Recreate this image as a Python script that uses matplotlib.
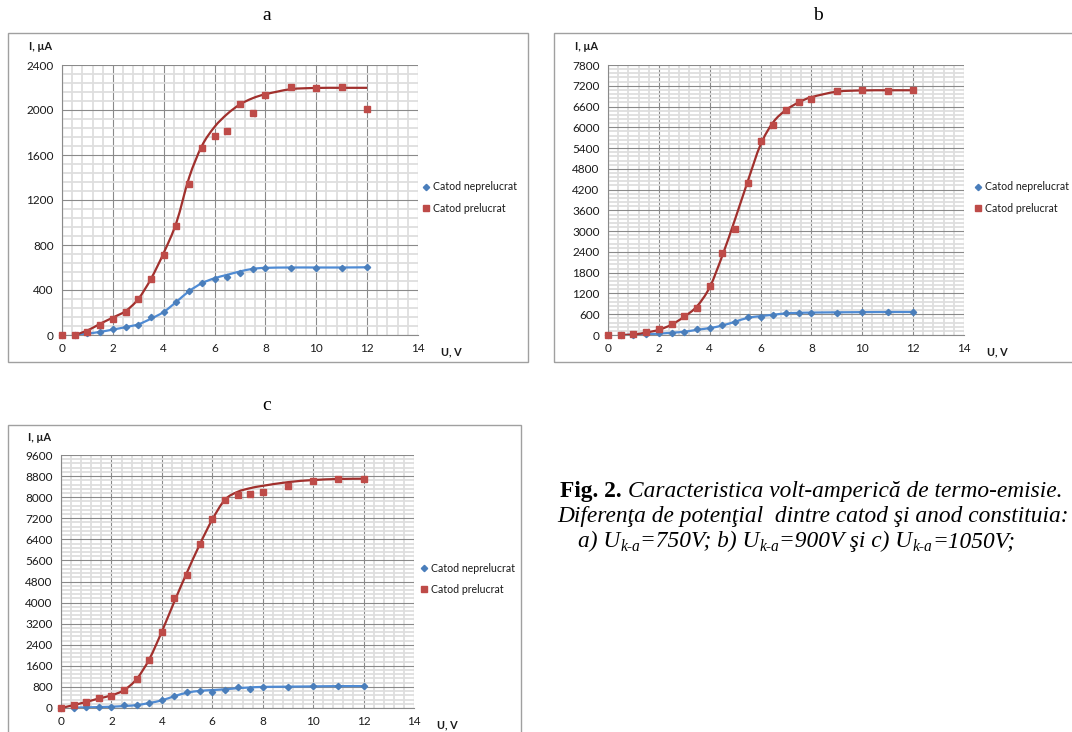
import numpy as np
import matplotlib
matplotlib.use("Agg")
import matplotlib.pyplot as plt
from matplotlib.path import Path
from matplotlib.patches import PathPatch, Rectangle
from matplotlib.lines import Line2D
from matplotlib.ticker import MultipleLocator
from matplotlib.transforms import IdentityTransform

# U, V for the measured points
u_pts = [0, 0.5, 1, 1.5, 2, 2.5, 3, 3.5, 4, 4.5, 5, 5.5, 6, 6.5, 7, 7.5, 8, 9, 10, 11, 12]
# U, V for the smoothed curves
u_fit = [0.5, 1, 1.5, 2, 2.5, 3, 3.5, 4, 4.5, 5, 5.5, 6, 6.5, 7, 7.5, 8, 9, 10, 11, 12]
u_fit_c = [0, 0.5, 1, 1.5, 2, 2.5, 3, 3.5, 4, 4.5, 5, 5.5, 6, 6.5, 7, 7.5, 8, 9, 10, 11, 12]

# a) Uk-a = 750 V
a_neprel = [0, 0, 15, 30, 50, 74, 89, 157, 207, 296, 394, 465, 498, 512, 554, 590, 598, 600, 600, 600, 605]
a_prel = [0, 0, 30, 89, 145, 207, 320, 495, 708, 972, 1342, 1662, 1769, 1813, 2053, 1973, 2136, 2201, 2196, 2201, 2006]
a_neprel_fit = [0, 12, 28, 48, 70, 95, 145, 205, 295, 390, 460, 505, 535, 565, 588, 597, 600, 600, 600, 602]
a_prel_fit = [0, 40, 100, 155, 213, 320, 500, 730, 1000, 1400, 1680, 1850, 1965, 2050, 2105, 2140, 2185, 2196, 2197, 2197]

# b) Uk-a = 900 V
b_neprel = [0, 0, 10, 20, 45, 67, 87, 164, 193, 279, 385, 510, 530, 578, 626, 645, 650, 650, 665, 665, 665]
b_prel = [0, 0, 20, 96, 164, 318, 559, 790, 1416, 2359, 3053, 4401, 5605, 6067, 6500, 6722, 6818, 7049, 7068, 7049, 7068]
b_neprel_fit = [0, 8, 20, 40, 65, 95, 150, 200, 275, 385, 495, 545, 585, 625, 640, 648, 655, 660, 665, 665]
b_prel_fit = [0, 15, 70, 150, 300, 530, 830, 1380, 2300, 3350, 4450, 5500, 6150, 6500, 6720, 6870, 7030, 7065, 7070, 7070]

# c) Uk-a = 1050 V
c_neprel = [0, 0, 20, 30, 50, 100, 114, 202, 290, 467, 594, 631, 619, 695, 783, 720, 796, 810, 830, 830, 830]
c_prel = [0, 101, 227, 366, 467, 669, 1086, 1831, 2880, 4168, 5052, 6227, 7174, 7894, 8083, 8121, 8184, 8437, 8614, 8702, 8702]
c_neprel_fit = [10, 25, 35, 50, 75, 110, 190, 290, 450, 580, 650, 680, 710, 750, 780, 800, 810, 820, 830, 830]
c_prel_fit = [0, 110, 230, 360, 480, 680, 1100, 1850, 2900, 4050, 5150, 6200, 7150, 7900, 8200, 8340, 8430, 8570, 8650, 8690, 8700]

labels = ["Catod neprelucrat", "Catod prelucrat"]

BLUE = "#4a7ebb"
BLUE_LINE = "#4f8bd4"
RED = "#be4b48"
RED_LINE = "#a1302d"

W, H = 1072, 732
plt.rcParams["font.family"] = ["Lato", "DejaVu Sans"]

fig = plt.figure(figsize=(W / 100, H / 100), dpi=100)
fig.patch.set_facecolor("white")


def px_axes(left, top, right, bottom):
    return fig.add_axes([left / W, 1 - bottom / H, (right - left) / W, (bottom - top) / H])


def smooth_path(x, y):
    # Excel style smoothed line: cubic Bezier through every point
    p = np.column_stack([x, y]).astype(float)
    n = len(p)
    verts = [p[0]]
    codes = [Path.MOVETO]
    for i in range(n - 1):
        p0 = p[i - 1] if i > 0 else p[i]
        p3 = p[i + 2] if i + 2 < n else p[i + 1]
        c1 = p[i] + (p[i + 1] - p0) / 6
        c2 = p[i + 1] - (p3 - p[i]) / 6
        verts += [c1, c2, p[i + 1]]
        codes += [Path.CURVE4] * 3
    return Path(verts, codes)


def chart_box(left, top, right, bottom):
    fig.add_artist(Rectangle((left / W, 1 - bottom / H), (right - left) / W, (bottom - top) / H,
                             transform=fig.transFigure, fill=False, edgecolor="#a0a0a0", lw=1.0))


def panel(box, plot, ymax, ystep, neprel, prel, uf_n, neprel_fit, uf_p, prel_fit, leg_xy):
    chart_box(*box)
    ax = px_axes(*plot)
    ax.set_xlim(0, 14)
    ax.set_ylim(0, ymax)
    ax.xaxis.set_major_locator(MultipleLocator(2))
    ax.xaxis.set_minor_locator(MultipleLocator(0.4))
    ax.yaxis.set_major_locator(MultipleLocator(ystep))
    ax.yaxis.set_minor_locator(MultipleLocator(ystep / 5))
    ax.grid(which="minor", color="#dedede", lw=1.3)
    ax.grid(which="major", color="#8a8a8a", lw=0.8)
    ax.set_axisbelow(True)
    for s in ["top", "right"]:
        ax.spines[s].set_visible(False)
    for s in ["left", "bottom"]:
        ax.spines[s].set_color("#8a8a8a")
        ax.spines[s].set_linewidth(0.8)
    ax.tick_params(which="both", length=0, labelsize=8.5, colors="#1a1a1a", pad=6)

    ax.add_patch(PathPatch(smooth_path(uf_n, neprel_fit), fill=False, edgecolor=BLUE_LINE, lw=1.6, zorder=3))
    ax.add_patch(PathPatch(smooth_path(uf_p, prel_fit), fill=False, edgecolor=RED_LINE, lw=1.6, zorder=3))
    ax.plot(u_pts, neprel, ls="none", marker="D", ms=3.2, color=BLUE, zorder=4, clip_on=False)
    ax.plot(u_pts, prel, ls="none", marker="s", ms=5, color=RED, zorder=4, clip_on=False)

    left, top, right, bottom = plot
    fig.text((left - 33) / W, 1 - (top - 18) / H, "I, µA", fontsize=7.8, fontweight="bold",
             va="center", ha="left", color="#1a1a1a")
    fig.text((right + 23) / W, 1 - (bottom + 17) / H, "U, V", fontsize=7.8, fontweight="bold",
             va="center", ha="left", color="#1a1a1a")

    handles = [Line2D([], [], ls="none", marker="D", ms=3.2, color=BLUE),
               Line2D([], [], ls="none", marker="s", ms=5, color=RED)]
    ax.legend(handles, labels, loc="center left",
              bbox_to_anchor=(leg_xy[0] / W, 1 - leg_xy[1] / H), bbox_transform=fig.transFigure,
              frameon=False, fontsize=7.6, handlelength=0.8, handletextpad=0.25,
              labelspacing=0.95, borderpad=0, borderaxespad=0, labelcolor="#1a1a1a")
    return ax


panel((8, 33, 528, 362), (62, 65, 418, 335), 2400, 400,
      a_neprel, a_prel, u_fit, a_neprel_fit, u_fit, a_prel_fit, (422, 197.5))
panel((554, 33, 1080, 362), (608, 65, 964, 335), 7800, 600,
      b_neprel, b_prel, u_fit, b_neprel_fit, u_fit, b_prel_fit, (974, 197.5))
panel((8, 425, 521, 745), (61, 455, 414, 708), 9600, 800,
      c_neprel, c_prel, u_fit, c_neprel_fit, u_fit_c, c_prel_fit, (420, 579))

serif = ["Liberation Serif", "DejaVu Serif"]
for letter, x, y in [("a", 267, 15), ("b", 818, 15), ("c", 267, 405)]:
    fig.text(x / W, 1 - y / H, letter, fontsize=14, family=serif, ha="center", va="center")

# caption, written in runs so that subscripts and styles can change
renderer = fig.canvas.get_renderer()


def runs(x, y, parts):
    ybase = H - y
    for s, style in parts:
        kw = dict(fontsize=16.8, family=serif, style="italic")
        dy = 0
        if style == "bold":
            kw.update(style="normal", fontweight="bold")
        elif style == "sub":
            kw.update(fontsize=11.2)
            dy = -4
        t = fig.text(x, ybase + dy, s, transform=IdentityTransform(), va="baseline", ha="left", **kw)
        x = t.get_window_extent(renderer).x1


runs(560, 497, [("Fig. 2. ", "bold"), ("Caracteristica volt-amperică de termo-emisie.", "it")])
runs(557, 522, [("Diferenţa de potenţial  dintre catod şi anod constituia:", "it")])
runs(578, 547, [("a) U", "it"), ("k-a", "sub"), ("=750V; b) U", "it"), ("k-a", "sub"),
                ("=900V şi c) U", "it"), ("k-a", "sub"), ("=1050V;", "it")])

fig.savefig("out.png", dpi=100)
